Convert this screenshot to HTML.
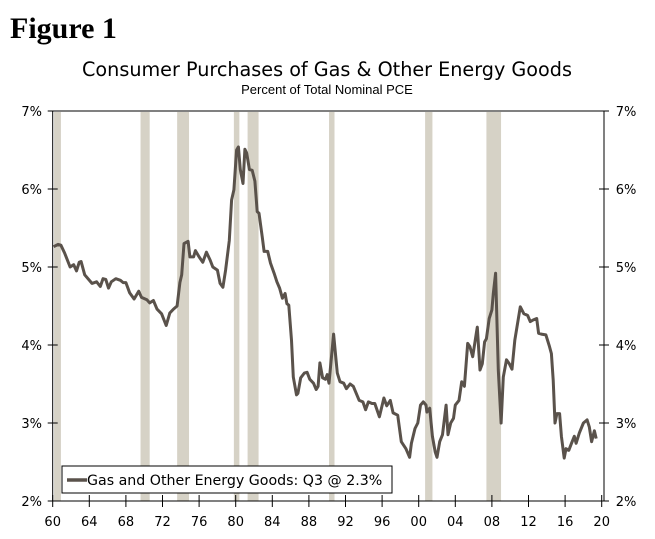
<!DOCTYPE html>
<html><head><meta charset="utf-8"><style>
body{margin:0;background:#fff;width:655px;height:539px;overflow:hidden}
svg{display:block}
</style></head><body>
<svg id="c" width="655" height="539" xmlns="http://www.w3.org/2000/svg">
<text x="10" y="38" font-family="Liberation Serif, serif" font-weight="bold" font-size="30" fill="#000">Figure 1</text>
<text x="327" y="76" text-anchor="middle" font-family="DejaVu Sans, sans-serif" font-size="19.2" fill="#000">Consumer Purchases of Gas &amp; Other Energy Goods</text>
<text x="327" y="94" text-anchor="middle" font-family="Liberation Sans Narrow, Liberation Sans, sans-serif" font-size="13" fill="#000">Percent of Total Nominal PCE</text>
<g id="rec"></g>
<g id="axes"></g>
<g id="series"></g>
<g>
<rect x="62" y="466" width="330" height="27" fill="#fff" stroke="#000" stroke-width="1"/>
<line x1="67" y1="480" x2="87" y2="480" stroke="#5a524b" stroke-width="3.5"/>
<text x="87" y="485" font-family="DejaVu Sans, sans-serif" font-size="14.2" fill="#000">Gas and Other Energy Goods: Q3 @ 2.3%</text>
</g>
</svg>
<script>
const years=[1960.1,1960.6,1960.9,1961.3,1961.9,1962.3,1962.6,1962.9,1963.1,1963.5,1964.3,1964.8,1965.2,1965.5,1965.8,1966.1,1966.4,1966.9,1967.4,1967.7,1968.0,1968.4,1968.9,1969.4,1969.7,1970.3,1970.6,1971.0,1971.4,1971.9,1972.4,1972.8,1973.2,1973.6,1973.9,1974.1,1974.35,1974.8,1975.0,1975.4,1975.6,1976.0,1976.4,1976.8,1977.2,1977.5,1978.0,1978.3,1978.6,1978.9,1979.3,1979.55,1979.8,1980.1,1980.3,1980.5,1980.8,1981.0,1981.2,1981.5,1981.8,1982.1,1982.35,1982.55,1982.9,1983.1,1983.5,1983.8,1984.2,1984.5,1984.8,1985.1,1985.4,1985.6,1985.8,1986.1,1986.3,1986.65,1986.8,1987.1,1987.5,1987.8,1988.1,1988.5,1988.8,1989.0,1989.2,1989.5,1989.8,1990.0,1990.2,1990.7,1991.1,1991.4,1991.8,1992.1,1992.5,1992.85,1993.5,1993.9,1994.2,1994.5,1994.9,1995.2,1995.7,1996.2,1996.5,1996.9,1997.2,1997.7,1998.1,1998.6,1999.0,1999.2,1999.6,1999.9,2000.2,2000.5,2000.8,2000.9,2001.2,2001.5,2001.8,2002.0,2002.3,2002.6,2003.0,2003.2,2003.5,2003.8,2004.0,2004.4,2004.7,2005.0,2005.35,2005.6,2005.9,2006.3,2006.4,2006.7,2006.95,2007.2,2007.4,2007.7,2008.0,2008.15,2008.4,2008.7,2009.0,2009.25,2009.6,2009.9,2010.2,2010.5,2011.1,2011.5,2011.9,2012.2,2012.5,2012.9,2013.1,2013.4,2013.9,2014.3,2014.5,2014.7,2014.9,2015.1,2015.4,2015.6,2015.9,2016.1,2016.4,2016.7,2017.0,2017.2,2017.55,2018.0,2018.4,2018.65,2018.9,2019.2,2019.4];
const values=[5.26,5.29,5.28,5.18,5.00,5.03,4.95,5.06,5.07,4.90,4.79,4.81,4.75,4.85,4.84,4.73,4.81,4.85,4.83,4.80,4.80,4.67,4.59,4.69,4.61,4.58,4.54,4.57,4.46,4.40,4.25,4.41,4.46,4.50,4.80,4.90,5.30,5.33,5.13,5.13,5.21,5.13,5.06,5.19,5.09,5.00,4.96,4.79,4.74,4.96,5.34,5.86,5.99,6.50,6.54,6.25,6.07,6.51,6.46,6.25,6.24,6.10,5.71,5.69,5.39,5.20,5.20,5.05,4.92,4.81,4.73,4.60,4.66,4.53,4.51,4.06,3.59,3.36,3.38,3.58,3.64,3.65,3.56,3.51,3.43,3.47,3.77,3.58,3.56,3.62,3.51,4.14,3.64,3.53,3.51,3.44,3.50,3.47,3.29,3.27,3.17,3.27,3.25,3.25,3.08,3.32,3.22,3.29,3.13,3.10,2.76,2.67,2.56,2.74,2.93,3.00,3.23,3.27,3.23,3.14,3.19,2.83,2.63,2.56,2.76,2.85,3.23,2.85,3.00,3.06,3.23,3.29,3.53,3.47,4.02,3.98,3.85,4.15,4.23,3.68,3.76,4.04,4.08,4.34,4.45,4.66,4.92,3.68,3.00,3.59,3.81,3.76,3.69,4.06,4.49,4.40,4.38,4.30,4.32,4.34,4.15,4.14,4.13,3.98,3.89,3.55,3.00,3.12,3.12,2.83,2.55,2.67,2.65,2.74,2.83,2.74,2.87,3.00,3.04,2.95,2.76,2.90,2.80];
const recStart=[1960.15,1969.6,1973.6,1979.8,1981.3,1990.2,2000.7,2007.4];
const recEnd=[1960.9,1970.6,1974.9,1980.4,1982.5,1990.8,2001.5,2009.0];
const yTicks=[2,3,4,5,6,7];
const xTicks=[1960,1964,1968,1972,1976,1980,1984,1988,1992,1996,2000,2004,2008,2012,2016,2020];
const xTickLabels=["60","64","68","72","76","80","84","88","92","96","00","04","08","12","16","20"];
const L=52.7,R=604,T=111,B=501;
const x=y=>L+(y-1960)*9.15;
const yv=v=>B-(v-2)*(B-T)/5;
const NS="http://www.w3.org/2000/svg";
function mk(tag,at,parent){const e=document.createElementNS(NS,tag);for(const k in at)e.setAttribute(k,at[k]);parent.appendChild(e);return e;}
const rec=document.getElementById('rec');
recStart.forEach((s,i)=>{const r=mk('rect',{x:x(s),y:T+1,width:x(recEnd[i])-x(s),height:B-T-1,fill:'#d6d2c6'},rec);

});
const ax=document.getElementById('axes');
const fs='font-family:"DejaVu Sans",sans-serif;font-size:13px';
let a=mk('line',{x1:L,y1:T,x2:R,y2:T,stroke:'#000'},ax);
a=mk('line',{x1:L,y1:T,x2:L,y2:B,stroke:'#000'},ax);
a=mk('line',{x1:R,y1:T,x2:R,y2:B,stroke:'#000'},ax);
a=mk('line',{x1:L,y1:B,x2:R,y2:B,stroke:'#000'},ax);
yTicks.forEach(v=>{const yy=yv(v);
mk('line',{x1:L-5,y1:yy,x2:L+5,y2:yy,stroke:'#000'},ax);
mk('line',{x1:R-5,y1:yy,x2:R+5,y2:yy,stroke:'#000'},ax);
let t=mk('text',{x:L-21,y:yy+5,'text-anchor':'middle',style:fs},ax);t.textContent=v+'%';


t=mk('text',{x:R+22,y:yy+5,'text-anchor':'middle',style:fs},ax);t.textContent=v+'%';

});
xTicks.forEach((v,i)=>{const xx=x(v);
mk('line',{x1:xx,y1:B-6,x2:xx,y2:B+6,stroke:'#000'},ax);
const t=mk('text',{x:xx,y:B+25,'text-anchor':'middle',style:fs},ax);t.textContent=xTickLabels[i];

});
const p=mk('polyline',{points:years.map((y,i)=>x(y).toFixed(1)+','+yv(values[i]).toFixed(1)).join(' '),fill:'none',stroke:'#5a524b','stroke-width':3,'stroke-linejoin':'round'},document.getElementById('series'));


</script>
</body></html>
